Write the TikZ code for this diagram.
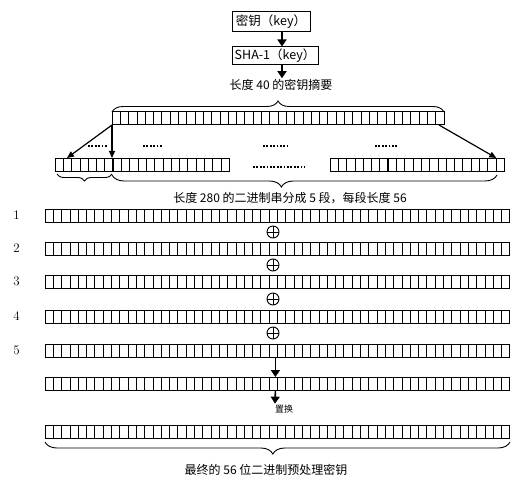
\documentclass[tikz,border=0pt]{standalone}
\usepackage{fontspec}
\usepackage{tikz}
\usetikzlibrary{arrows.meta,positioning,decorations.pathreplacing}
\newfontfamily\cjk{Noto Sans CJK SC}
\def\cw{8.3pt}
\tikzset{
  bitbox/.style={draw,line width=1pt,minimum height=13pt,inner sep=0pt,outer sep=0pt},
  cellsep/.style={line width=0.75pt},
  keybox/.style={draw,line width=1pt,inner sep=2pt,font=\cjk\fontsize{12.5}{14}\selectfont},
  lbl/.style={font=\cjk\fontsize{12}{14}\selectfont,inner sep=1pt},
  numlbl/.style={font=\fontsize{13}{15}\selectfont,inner sep=1pt},
  fatarrow/.style={line width=1.6pt,-{Triangle[width=9pt,length=7pt]}},
  splitarrow/.style={line width=1.2pt,-{Triangle[width=6pt,length=7pt]}},
  brc/.style={decorate,decoration={brace,amplitude=#1},line width=0.9pt},
  xorop/.style={circle,draw,line width=0.9pt,minimum size=12pt,inner sep=0pt,
    path picture={\draw[line width=0.9pt]
      (path picture bounding box.north) -- (path picture bounding box.south)
      (path picture bounding box.west) -- (path picture bounding box.east);}},
  dotfill/.style={line width=2.2pt,dash pattern=on 1.8pt off 1.6pt}
}
% a row of #4 bit cells, top left corner at (#2,#3)
\newcommand\bitrow[4]{%
  \node[bitbox,minimum width=#4*\cw,anchor=north west] (#1) at (#2,#3) {};
  \pgfmathtruncatemacro\lastcell{#4-1}
  \foreach \i in {1,...,\lastcell}
    \draw[cellsep] ([xshift=\i*\cw]#1.north west) -- ([xshift=\i*\cw]#1.south west);
}

\begin{document}
\begin{tikzpicture}[x=1pt,y=-1pt]
  \useasboundingbox (0,0) rectangle (513,481);

  % key and its hash
  \node[keybox,minimum width=78pt,minimum height=20pt] (key) at (271,22) {密钥（key）};
  \node[keybox,minimum width=86pt,minimum height=18pt] (sha) at (275,56) {SHA-1（key）};
  \node[lbl] (lbl40) at (281,85) {长度 40 的密钥摘要};
  \draw[fatarrow] ([xshift=11pt]key.south) -- ([xshift=7pt]sha.north);
  \draw[fatarrow] ([xshift=7pt]sha.south) -- ([xshift=1pt]lbl40.north);

  % 40 bit digest
  \bitrow{dig}{112}{112}{40}
  \draw[brc=11pt] (dig.north west) -- (dig.north east);

  % first and last of the five segments
  \bitrow{segA}{55}{158}{21}
  \bitrow{segE}{330}{158}{21}
  \foreach \s in {segA,segE}
    \foreach \k in {7,14}
      \draw[line width=1.4pt] ([xshift=\k*\cw]\s.north west) -- ([xshift=\k*\cw]\s.south west);
  \draw[splitarrow] (dig.south west) -- ([xshift=12pt]segA.north west);
  \draw[splitarrow] (dig.south west) -- (dig.south west |- segA.north);
  \draw[splitarrow] ([xshift=-5pt]dig.south east) -- ([xshift=-8pt]segE.north east);
  \foreach \a/\b/\y in {88/108/146,143/163/146,263/288/146,375/398/146,253/305/167}
    \draw[dotfill] (\a,\y) -- (\b,\y);
  \draw[brc=7pt,decoration={mirror}] (57,174) -- (112,174);
  \draw[brc=12pt,decoration={mirror,aspect=0.44}] (112,175) -- (497,175);
  \node[lbl] (lbl280) at (290,198) {长度 280 的二进制串分成 5 段，每段长度 56};

  % the five 56 bit blocks
  \foreach \n/\y in {1/209,2/242,3/275,4/310,5/344} {
    \bitrow{row\n}{45}{\y}{56}
    \node[numlbl,left=24pt of row\n] (num\n) {\n};
  }
  \foreach \y [count=\k] in {232,265,299,333}
    \node[xorop] (xor\k) at (273,\y) {};

  % xor result and permutation
  \bitrow{mixed}{45}{377}{56}
  \draw[fatarrow] ([xshift=-2pt]row5.south) -- ([xshift=-2pt]mixed.north);
  \node[lbl,font=\cjk\fontsize{9}{11}\selectfont] (permlbl) at (284,409) {置换};
  \draw[fatarrow] ([xshift=-2pt]mixed.south) -- ([xshift=-9pt]permlbl.north);

  \bitrow{final}{45}{425}{56}
  \draw[brc=12pt,decoration={mirror,aspect=0.49}] (45,442) -- (510,442);
  \node[lbl] (lblfinal) at (266,470) {最终的 56 位二进制预处理密钥};
\end{tikzpicture}
\end{document}
